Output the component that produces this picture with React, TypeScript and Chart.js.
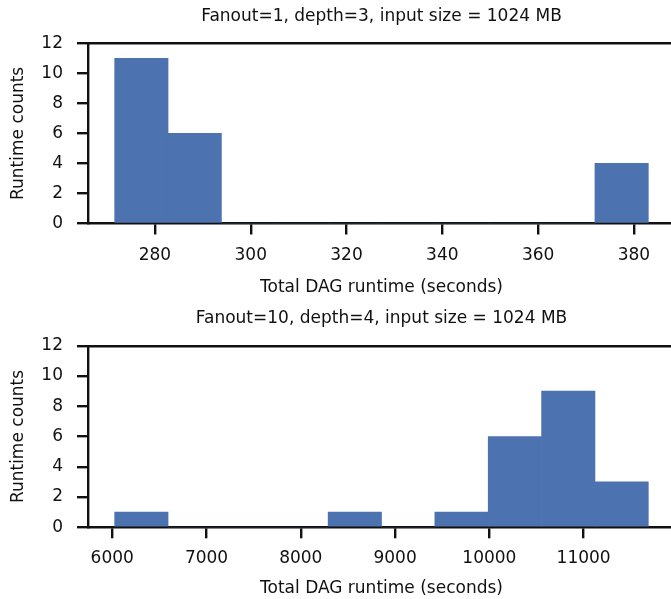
import { useEffect, useRef } from "react";
import { Chart, registerables } from "chart.js";

Chart.register(...registerables);

const FONT = "'DejaVu Sans', 'Liberation Sans', sans-serif";
const INK = "#111111";
const BAR = "#4C72B0";
const LINE_W = 2.4;

// Fanout=1, depth=3 run: bin edges (seconds) and run counts per bin
const topTitle = "Fanout=1, depth=3, input size = 1024 MB";
const topEdges = [271.6, 282.74, 293.88, 305.02, 316.16, 327.3, 338.44, 349.58, 360.72, 371.86, 383.0];
const topCounts = [11, 6, 0, 0, 0, 0, 0, 0, 0, 4];
const topXTicks = [280, 300, 320, 340, 360, 380];

// Fanout=10, depth=4 run
const bottomTitle = "Fanout=10, depth=4, input size = 1024 MB";
const bottomEdges = [6026, 6592, 7158, 7724, 8290, 8856, 9422, 9988, 10554, 11120, 11686];
const bottomCounts = [1, 0, 0, 0, 1, 0, 1, 6, 9, 3];
const bottomXTicks = [6000, 7000, 8000, 9000, 10000, 11000];

const countTicks = [0, 2, 4, 6, 8, 10, 12];
const xLabel = "Total DAG runtime (seconds)";
const yLabel = "Runtime counts";

type Frame = {
  height: number;
  titleTop: number;
  titleBottom: number;
  xAxisHeight: number;
  xTickPad: number;
  xTitleBottom: number;
};

const topFrame: Frame = { height: 302, titleTop: 6.8, titleBottom: 16.1, xAxisHeight: 78.5, xTickPad: 11.3, xTitleBottom: 4.6 };
const bottomFrame: Frame = { height: 297, titleTop: 6.5, titleBottom: 16.8, xAxisHeight: 71.7, xTickPad: 10.5, xTitleBottom: 0 };

function Histogram(props: { title: string; edges: number[]; counts: number[]; xTicks: number[]; frame: Frame }) {
  const { title, edges, counts, xTicks, frame } = props;
  const ref = useRef<HTMLCanvasElement>(null);

  useEffect(() => {
    const first = edges[0];
    const last = edges[edges.length - 1];
    const margin = (last - first) * 0.05;
    const xMin = first - margin;
    const xMax = last + margin;
    const points = counts.map((c, i) => ({ x: (edges[i] + edges[i + 1]) / 2, y: c }));
    const font = { family: FONT, size: 17, weight: "normal" as const, lineHeight: 1.2 };

    const chart = new Chart(ref.current!, {
      type: "bar",
      data: {
        datasets: [
          {
            data: points as any,
            backgroundColor: BAR,
            borderWidth: 0,
            barPercentage: 1,
            categoryPercentage: 1,
          },
        ],
      },
      options: {
        animation: false,
        responsive: false,
        devicePixelRatio: 1,
        layout: { padding: { left: 0, right: 5, top: 0, bottom: 0 } },
        plugins: {
          legend: { display: false },
          tooltip: { enabled: false },
          title: {
            display: true,
            text: title,
            fullSize: false,
            color: INK,
            font,
            padding: { top: frame.titleTop, bottom: frame.titleBottom },
          },
        },
        scales: {
          x: {
            type: "linear",
            min: xMin,
            max: xMax,
            offset: false,
            z: 1,
            afterBuildTicks: (s: any) => {
              s.ticks = xTicks.map((v) => ({ value: v }));
            },
            afterFit: (s: any) => {
              s.height = frame.xAxisHeight;
            },
            grid: {
              display: true,
              drawOnChartArea: false,
              drawTicks: true,
              offset: false,
              tickLength: 11,
              tickWidth: LINE_W,
              tickColor: INK,
              color: INK,
              lineWidth: LINE_W,
            },
            border: { display: true, color: INK, width: LINE_W },
            ticks: {
              color: INK,
              font,
              padding: frame.xTickPad,
              maxRotation: 0,
              autoSkip: false,
              callback: (v: any) => String(v),
            },
            title: { display: true, text: xLabel, color: INK, font, padding: { top: 0, bottom: frame.xTitleBottom } },
          },
          xTop: {
            type: "linear",
            position: "top",
            min: xMin,
            max: xMax,
            offset: false,
            z: 1,
            ticks: { display: false },
            grid: { display: true, drawOnChartArea: false, drawTicks: false, lineWidth: LINE_W, color: INK },
            border: { display: true, color: INK, width: LINE_W },
          },
          y: {
            type: "linear",
            min: 0,
            max: 12,
            z: 1,
            afterBuildTicks: (s: any) => {
              s.ticks = countTicks.map((v) => ({ value: v }));
            },
            afterFit: (s: any) => {
              s.width = 88;
            },
            grid: {
              display: true,
              drawOnChartArea: false,
              drawTicks: true,
              tickLength: 11,
              tickWidth: LINE_W,
              tickColor: INK,
              color: INK,
              lineWidth: LINE_W,
            },
            border: { display: true, color: INK, width: LINE_W },
            ticks: { color: INK, font, padding: 14 },
            title: { display: true, text: yLabel, color: INK, font, padding: { top: 8.1, bottom: 0 } },
          },
        },
      } as any,
    });
    return () => chart.destroy();
  }, []);

  return <canvas ref={ref} width={680} height={frame.height} style={{ display: "block" }} />;
}

export default function App() {
  return (
    <div
      style={{
        position: "absolute",
        left: 0,
        top: 0,
        width: 671,
        height: 599,
        overflow: "hidden",
        background: "#ffffff",
      }}
    >
      <div style={{ position: "absolute", left: 0, top: 0 }}>
        <Histogram title={topTitle} edges={topEdges} counts={topCounts} xTicks={topXTicks} frame={topFrame} />
      </div>
      <div style={{ position: "absolute", left: 0, top: 302 }}>
        <Histogram
          title={bottomTitle}
          edges={bottomEdges}
          counts={bottomCounts}
          xTicks={bottomXTicks}
          frame={bottomFrame}
        />
      </div>
    </div>
  );
}
